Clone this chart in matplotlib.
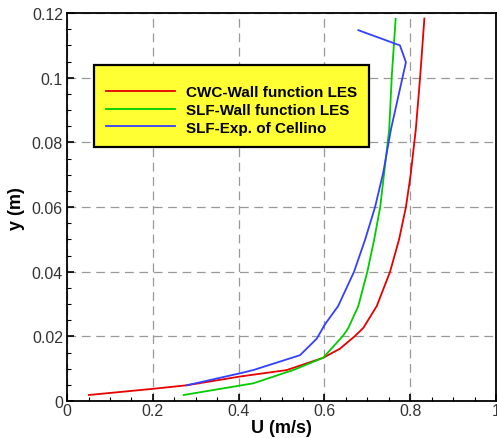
import numpy as np
import matplotlib
matplotlib.use("Agg")
import matplotlib.pyplot as plt
from matplotlib.ticker import MultipleLocator

plt.rcParams['font.family'] = ['Liberation Sans', 'DejaVu Sans']

# CWC - wall function LES
u_cwc = [0.051, 0.200, 0.279, 0.403, 0.512, 0.597, 0.636, 0.671, 0.691, 0.722, 0.753,
         0.774, 0.790, 0.801, 0.813, 0.823, 0.833]
y_cwc = [0.0019, 0.0038, 0.0049, 0.0076, 0.0096, 0.0134, 0.0162, 0.0201, 0.0227, 0.0294, 0.0400,
         0.0500, 0.0600, 0.0700, 0.0840, 0.1000, 0.1183]

# SLF - wall function LES
u_slf = [0.272, 0.434, 0.527, 0.597, 0.644, 0.656, 0.679, 0.700, 0.716, 0.730, 0.751, 0.757, 0.766]
y_slf = [0.0019, 0.0055, 0.0096, 0.0134, 0.0203, 0.0227, 0.0294, 0.0400, 0.0500, 0.0600, 0.0840, 0.1005, 0.1182]

# SLF - experiment of Cellino
u_exp = [0.279, 0.403, 0.434, 0.543, 0.582, 0.601, 0.632, 0.669, 0.695, 0.718,
         0.737, 0.755, 0.790, 0.776, 0.679]
y_exp = [0.0049, 0.0086, 0.0096, 0.0142, 0.0193, 0.0237, 0.0294, 0.0400, 0.0500, 0.0600,
         0.0706, 0.0840, 0.1048, 0.1100, 0.1147]

fig = plt.figure(figsize=(4.97, 4.39), dpi=100)
ax = fig.add_axes([0.135, 0.084, 0.863, 0.884])

ax.plot(u_cwc, y_cwc, color='#e60000', lw=1.3, label='CWC-Wall function LES')
ax.plot(u_slf, y_slf, color='#00cc00', lw=1.3, label='SLF-Wall function LES')
ax.plot(u_exp, y_exp, color='#3340ff', lw=1.3, label='SLF-Exp. of Cellino')

ax.set_xlim(0, 1)
ax.set_ylim(0, 0.12)
ax.xaxis.set_minor_locator(MultipleLocator(0.05))
ax.yaxis.set_minor_locator(MultipleLocator(0.005))
ax.set_xticks([0, 0.2, 0.4, 0.6, 0.8, 1.0])
ax.set_xticklabels(['0', '0.2', '0.4', '0.6', '0.8', '1'])
ax.set_yticks([0, 0.02, 0.04, 0.06, 0.08, 0.1, 0.12])
ax.set_yticklabels(['0', '0.02', '0.04', '0.06', '0.08', '0.1', '0.12'])

ax.tick_params(which='both', direction='in', top=False, right=False,
               labelsize=11.5, colors='black', labelcolor='#333333')
ax.tick_params(which='major', length=5, width=1.2)
ax.tick_params(which='minor', length=3, width=0.8)
ax.tick_params(axis='x', which='major', pad=1)
ax.tick_params(axis='y', which='major', pad=3)
for s in ax.spines.values():
    s.set_linewidth(1.3)

ax.grid(True, which='major', color='#999999', linestyle=(0, (7, 4.5)), linewidth=0.9)
ax.set_axisbelow(True)

ax.set_xlabel('U (m/s)', fontsize=13, fontweight='bold', labelpad=1)
ax.set_ylabel('y (m)', fontsize=13, fontweight='bold', labelpad=5)

# blank tiny title pushes the entries down a little, like the original box
leg = ax.legend(loc='upper left', bbox_to_anchor=(0.063, 0.866), borderaxespad=0,
                frameon=True, fancybox=False, facecolor='#ffff33', edgecolor='black',
                framealpha=1, prop={'weight': 'bold', 'size': 11},
                title=' ', title_fontsize=2,
                handlelength=4.5, handletextpad=0.7, borderpad=0.8, labelspacing=0.25)
leg.get_frame().set_linewidth(1.6)

fig.savefig('out.png', dpi=100)
